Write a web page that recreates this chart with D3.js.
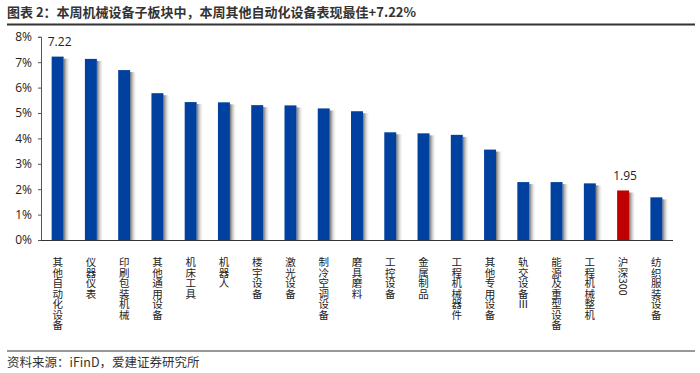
<!DOCTYPE html>
<html>
<head>
<meta charset="utf-8">
<script src="https://cdn.jsdelivr.net/npm/d3@7"></script>
<style>
  body { margin: 0; background: #fff; }
  svg { display: block; font-family: "Noto Sans CJK SC", "Noto Sans", sans-serif; }
</style>
</head>
<body>
<div class="chart"></div>
<script>
let w = 700;
let h = 373;

const categories = ["其他自动化设备", "仪器仪表", "印刷包装机械", "其他通用设备", "机床工具", "机器人",
	"楼宇设备", "激光设备", "制冷空调设备", "磨具磨料", "工控设备", "金属制品", "工程机械器件",
	"其他专用设备", "轨交设备Ⅲ", "能源及重型设备", "工程机械整机", "沪深300", "纺织服装设备"];
const values = [7.22, 7.13, 6.69, 5.78, 5.43, 5.42, 5.31, 5.30, 5.18, 5.07, 4.24, 4.20, 4.14,
	3.56, 2.28, 2.28, 2.23, 1.95, 1.68];
const yTicks = [0, 1, 2, 3, 4, 5, 6, 7, 8];
const labelled = ["其他自动化设备", "沪深300"]; // only these two get a value label

const x = d3.scaleBand()
	.domain(categories)
	.range([41, 673])
	.paddingInner(0.64)
	.paddingOuter(0.32);

const y = d3.scaleLinear()
	.domain([0, 8])
	.range([240, 36.8]);

let svg = d3.select('.chart')
	.append('svg')
	.attr('width', w)
	.attr('height', h);

// shadow gradient behind bars
let grad = svg.append('defs').append('linearGradient')
	.attr('id', 'shade')
	.attr('x1', '0%').attr('x2', '100%');
grad.append('stop').attr('offset', '0%').attr('stop-color', '#6e6e6e');
grad.append('stop').attr('offset', '100%').attr('stop-color', '#ffffff').attr('stop-opacity', 0);

// title
svg.append('text')
	.attr('x', 7)
	.attr('y', 17)
	.attr('font-size', '13px')
	.attr('font-weight', 'bold')
	.attr('fill', '#333')
	.text('图表 2：本周机械设备子板块中，本周其他自动化设备表现最佳+7.22%');

svg.append('line')
	.attr('x1', 7).attr('x2', 695)
	.attr('y1', 24.5).attr('y2', 24.5)
	.attr('stroke', '#333')
	.attr('stroke-width', 2);

// shadows
svg.selectAll('rect.shadow')
	.data(categories)
	.enter()
	.append('rect')
	.attr('class', 'shadow')
	.attr('x', d => x(d) + x.bandwidth())
	.attr('y', (d, i) => y(values[i]) + 2)
	.attr('width', 7)
	.attr('height', (d, i) => y(0) - y(values[i]) - 2)
	.attr('fill', 'url(#shade)');

// bars
svg.selectAll('rect.bar')
	.data(categories)
	.enter()
	.append('rect')
	.attr('class', 'bar')
	.attr('x', d => x(d))
	.attr('y', (d, i) => y(values[i]))
	.attr('width', x.bandwidth())
	.attr('height', (d, i) => y(0) - y(values[i]))
	.attr('fill', d => d === '沪深300' ? '#c00000' : '#0041a0');

// axes
let yAxis = svg.append('g')
	.attr('transform', 'translate(41,0)')
	.call(d3.axisLeft(y).tickValues(yTicks).tickSize(3).tickFormat(d => d + '%'));
yAxis.select('.domain').attr('stroke', '#555');
yAxis.selectAll('.tick line').attr('stroke', '#555');
yAxis.selectAll('.tick text')
	.attr('x', -9)
	.attr('font-size', '12px')
	.attr('font-family', '"Open Sans", "Noto Sans", sans-serif')
	.attr('fill', '#222');

svg.append('line')
	.attr('x1', 41).attr('x2', 673)
	.attr('y1', 240.5).attr('y2', 240.5)
	.attr('stroke', '#333')
	.attr('stroke-width', 1.2);

// vertical category labels
svg.selectAll('text.cat')
	.data(categories)
	.enter()
	.append('text')
	.attr('class', 'cat')
	.attr('x', d => x(d) + x.bandwidth() / 2)
	.attr('y', 257)
	.attr('font-size', '10.5px')
	.attr('fill', '#222')
	.style('writing-mode', 'vertical-rl')
	.text(d => d);

// value labels
svg.selectAll('text.val')
	.data(categories.filter(d => labelled.includes(d)))
	.enter()
	.append('text')
	.attr('class', 'val')
	.attr('x', d => x(d) + x.bandwidth() / 2 + 2)
	.attr('y', d => d === '沪深300' ? y(values[categories.indexOf(d)]) - 10 : 46)
	.attr('text-anchor', 'middle')
	.attr('font-size', '12px')
	.attr('font-family', '"Open Sans", "Noto Sans", sans-serif')
	.attr('fill', '#222')
	.text(d => values[categories.indexOf(d)].toFixed(2));

// source
svg.append('line')
	.attr('x1', 7).attr('x2', 695)
	.attr('y1', 351).attr('y2', 351)
	.attr('stroke', '#333')
	.attr('stroke-width', 1);

svg.append('text')
	.attr('x', 7)
	.attr('y', 367)
	.attr('font-size', '12.5px')
	.attr('fill', '#333')
	.text('资料来源：iFinD，爱建证券研究所');
</script>
</body>
</html>
